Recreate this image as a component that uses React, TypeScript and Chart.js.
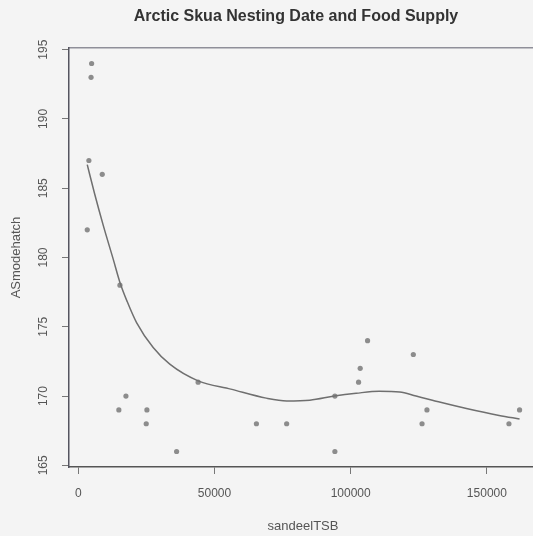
import { useEffect, useRef } from "react";
import { Chart, registerables } from "chart.js";

Chart.register(...registerables);

// Sandeel total stock biomass (x) against Arctic Skua modal hatch date (y)
const sandeelTSB = [3300, 3900, 4700, 4900, 8800, 14900, 15300, 17500, 24950, 25200, 36100, 44000, 65400, 76500, 94200, 94200, 102900, 103500, 106200, 123000, 126200, 128000, 158100, 162000];
const hatchDate = [182, 187, 193, 194, 186, 169, 178, 170, 168, 169, 166, 171, 168, 168, 170, 166, 171, 172, 174, 173, 168, 169, 168, 169];

// Smoothed trend through the points
const smoothX = [3300, 6000, 9200, 12800, 15300, 18000, 21400, 27500, 33600, 44000, 56000, 69000, 76500, 85000, 94000, 102000, 110500, 118000, 124000, 130000, 142500, 154500, 162000];
const smoothY = [186.7, 184.6, 182.3, 179.9, 178.2, 176.8, 175.3, 173.5, 172.3, 171.1, 170.5, 169.85, 169.65, 169.7, 170.0, 170.2, 170.35, 170.3, 170.0, 169.7, 169.1, 168.6, 168.35];

const xTicks = [0, 50000, 100000, 150000];
const yTicks = [165, 170, 175, 180, 185, 190, 195];

const xRange = [-3400, 168400];
const yRange = [164.88, 195.12];

const chartTitle = "Arctic Skua Nesting Date and Food Supply";
const family = "'Liberation Sans', Arial, Helvetica, sans-serif";

// Main title, centred on the full canvas width
const titlePlugin = {
  id: "plotTitle",
  afterDraw(chart: any) {
    const { ctx, width } = chart;
    ctx.save();
    ctx.font = `bold 16px ${family}`;
    ctx.fillStyle = "#333333";
    ctx.textAlign = "center";
    ctx.textBaseline = "alphabetic";
    ctx.fillText(chartTitle, width / 2, 20.5);
    ctx.restore();
  },
};

export default function App() {
  const canvasRef = useRef<HTMLCanvasElement>(null);

  useEffect(() => {
    const canvas = canvasRef.current;
    if (!canvas) return;
    const chart = new Chart(canvas, {
      type: "scatter",
      data: {
        datasets: [
          {
            type: "line",
            label: "smooth",
            data: smoothX.map((x, i) => ({ x, y: smoothY[i] })),
            borderColor: "#6f6f6f",
            borderWidth: 1.5,
            pointRadius: 0,
            cubicInterpolationMode: "monotone",
            fill: false,
          },
          {
            label: "ASmodehatch",
            data: sandeelTSB.map((x, i) => ({ x, y: hatchDate[i] })),
            pointRadius: 2.6,
            backgroundColor: "#8c8c8c",
            borderWidth: 0,
          },
        ],
      } as any,
      options: {
        responsive: false,
        animation: false,
        devicePixelRatio: 1,
        layout: { padding: { left: 0, top: 48, bottom: 0, right: 55 } },
        plugins: {
          legend: { display: false },
          tooltip: { enabled: false },
          title: { display: false },
        },
        scales: {
          x: {
            type: "linear",
            position: "bottom",
            min: xRange[0],
            max: xRange[1],
            afterBuildTicks: (s: any) => {
              s.ticks = xTicks.map((v) => ({ value: v }));
            },
            grid: {
              display: true,
              drawOnChartArea: false,
              drawTicks: true,
              tickLength: 7,
              tickColor: "#777777",
            },
            border: { display: true, color: "#555555", width: 1.5 },
            ticks: {
              color: "#555555",
              font: { family, size: 12 },
              padding: 12,
              maxRotation: 0,
              callback: (v: any) => String(v),
            },
            title: {
              display: true,
              text: "sandeelTSB",
              color: "#555555",
              font: { family, size: 13 },
              padding: { top: 6, bottom: 2 },
            },
          },
          xTop: {
            type: "linear",
            position: "top",
            display: true,
            grid: { display: false, drawTicks: false },
            ticks: { display: false },
            border: { display: true, color: "#8f8f99", width: 1.5 },
          },
          y: {
            type: "linear",
            position: "left",
            min: yRange[0],
            max: yRange[1],
            afterBuildTicks: (s: any) => {
              s.ticks = yTicks.map((v) => ({ value: v }));
            },
            grid: {
              display: true,
              drawOnChartArea: false,
              drawTicks: true,
              tickLength: 7,
              tickColor: "#777777",
            },
            border: { display: true, color: "#555560", width: 1.5 },
            ticks: {
              color: "#555555",
              font: { family, size: 12 },
              padding: 8,
              minRotation: 90,
              maxRotation: 90,
              crossAlign: "center",
              callback: (v: any) => String(v),
            },
            title: {
              display: true,
              text: "ASmodehatch",
              color: "#555555",
              font: { family, size: 13 },
              padding: { top: 9, bottom: 7 },
            },
          },
        },
      } as any,
      plugins: [titlePlugin],
    });
    return () => chart.destroy();
  }, []);

  return (
    <div
      style={{
        position: "fixed",
        left: 0,
        top: 0,
        width: 533,
        height: 536,
        overflow: "hidden",
        background: "#f4f4f4",
      }}
    >
      <canvas ref={canvasRef} width={592} height={536} style={{ display: "block" }} />
    </div>
  );
}
